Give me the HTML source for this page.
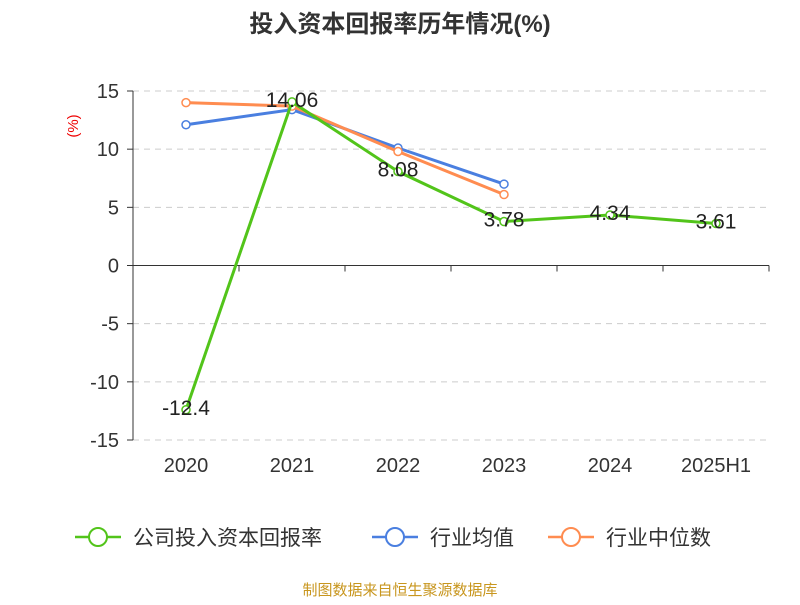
<!DOCTYPE html>
<html><head><meta charset="utf-8"><style>
body{margin:0;background:#fff;}
svg text{font-family:"Liberation Sans","Noto Sans CJK SC",sans-serif;}
</style></head><body>
<svg width="800" height="600" xmlns="http://www.w3.org/2000/svg">
<text x="400" y="32" text-anchor="middle" font-size="24" font-weight="bold" fill="#333">投入资本回报率历年情况(%)</text>
<text transform="translate(78,126) rotate(-90)" text-anchor="middle" font-size="15" fill="#e00">(%)</text>
<g id="grid"></g><g id="axes"></g><g id="series"></g>
<g>
 <g><line x1="75" y1="537" x2="121" y2="537" stroke="#52c41a" stroke-width="2.5"/><circle cx="98" cy="537" r="9" fill="#fff" stroke="#52c41a" stroke-width="2"/><text x="133" y="545" font-size="21" fill="#333">公司投入资本回报率</text></g>
 <g><line x1="372" y1="537" x2="418" y2="537" stroke="#4a7fe0" stroke-width="2.5"/><circle cx="395" cy="537" r="9" fill="#fff" stroke="#4a7fe0" stroke-width="2"/><text x="430" y="545" font-size="21" fill="#333">行业均值</text></g>
 <g><line x1="548" y1="537" x2="594" y2="537" stroke="#ff8c50" stroke-width="2.5"/><circle cx="571" cy="537" r="9" fill="#fff" stroke="#ff8c50" stroke-width="2"/><text x="606" y="545" font-size="21" fill="#333">行业中位数</text></g>
</g>
<text x="400" y="595" text-anchor="middle" font-size="15" fill="#c8961e">制图数据来自恒生聚源数据库</text>
</svg>
<script>
const categories=["2020","2021","2022","2023","2024","2025H1"];
const company=[-12.4,14.06,8.08,3.78,4.34,3.61];
const companyLabels=["-12.4","14.06","8.08","3.78","4.34","3.61"];
const industryMean=[12.1,13.4,10.1,7.0];
const industryMedian=[14.0,13.7,9.8,6.1];
const yTicks=[15,10,5,0,-5,-10,-15];
const NS="http://www.w3.org/2000/svg";
const x0=133,x1=769,yTop=91,yBot=440,yMin=-15,yMax=15;
const bw=(x1-x0)/categories.length;
const X=i=>x0+bw*(i+0.5);
const Y=v=>yBot-(v-yMin)/(yMax-yMin)*(yBot-yTop);
function mk(t,a,p){const e=document.createElementNS(NS,t);for(const k in a)e.setAttribute(k,a[k]);p.appendChild(e);return e;}
const grid=document.getElementById('grid'),axes=document.getElementById('axes'),ser=document.getElementById('series');
yTicks.forEach(v=>{
 if(v!==0){const l=mk('line',{x1:x0,x2:x1,y1:Y(v),y2:Y(v),stroke:'#ccc','stroke-dasharray':'6,5'},grid);
 
 }
 const t=mk('text',{x:x0-14,y:Y(v)+7,'text-anchor':'end','font-size':20,fill:'#333'},axes);t.textContent=v;
 
 
 mk('line',{x1:x0-6,x2:x0,y1:Y(v),y2:Y(v),stroke:'#333'},axes);
});
const ya=mk('line',{x1:x0,x2:x0,y1:yTop,y2:yBot,stroke:'#333'},axes);


const xa=mk('line',{x1:x0,x2:x1,y1:Y(0),y2:Y(0),stroke:'#333'},axes);


categories.forEach((c,i)=>{
 mk('line',{x1:x0+bw*(i+1),x2:x0+bw*(i+1),y1:Y(0),y2:Y(0)+6,stroke:'#333'},axes);
 const t=mk('text',{x:X(i),y:472,'text-anchor':'middle','font-size':20,fill:'#333'},axes);t.textContent=c;
 
 
});
function line(data,color,name){
 const g=mk('g',{},ser);
 
 
 mk('polyline',{points:data.map((v,i)=>X(i)+','+Y(v)).join(' '),fill:'none',stroke:color,'stroke-width':3},g);
 data.forEach((v,i)=>{const c=mk('circle',{cx:X(i),cy:Y(v),r:4,fill:'#fff',stroke:color,'stroke-width':1.5},g);
 
 });
}
line(industryMean,'#4a7fe0','industry-mean-series');
line(industryMedian,'#ff8c50','industry-median-series');
line(company,'#52c41a','company-series');
company.forEach((v,i)=>{const t=mk('text',{x:X(i),y:Y(v)+5,'text-anchor':'middle','font-size':21,fill:'#222'},ser);t.textContent=companyLabels[i];
 
 });
</script>
</body></html>
